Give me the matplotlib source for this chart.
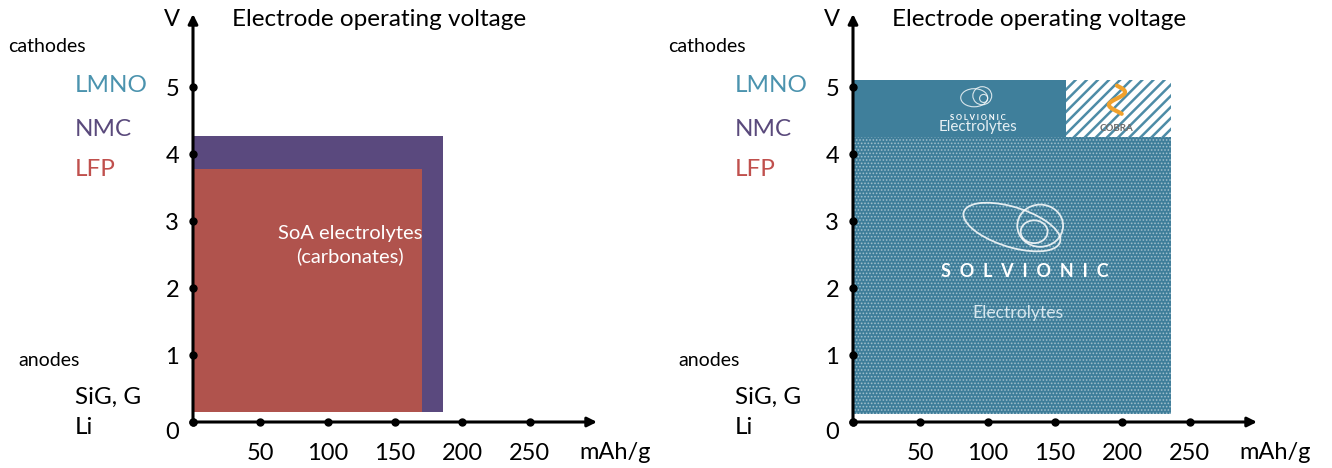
import matplotlib
matplotlib.use("Agg")
import matplotlib.pyplot as plt
from matplotlib.patches import Ellipse
import numpy as np

plt.rcParams['font.family'] = ['Lato', 'DejaVu Sans']

# ---------------- data ----------------
x_ticks = [50, 100, 150, 200, 250]
y_ticks = [0, 1, 2, 3, 4, 5]
x_unit = "mAh/g"
y_unit = "V"
title = "Electrode operating voltage"

cathode_labels = ["LMNO", "NMC", "LFP"]
cathode_colors = ["#4b93ae", "#5a4a7c", "#c0504d"]
anode_labels = ["SiG, G", "Li"]

# left panel: state-of-the-art electrolytes
left_names = ["NMC window", "LFP window"]
left_cap = [186, 170]          # mAh/g
left_vmin = [0.15, 0.15]       # V
left_vmax = [4.27, 3.78]       # V
left_colors = ["#5a497e", "#b0534d"]

# right panel: Solvionic electrolytes
right_names = ["Solvionic", "Solvionic high V", "COBRA"]
right_x0 = [0, 0, 158]
right_cap = [236, 158, 236]
right_vmin = [0.12, 4.25, 4.25]
right_vmax = [4.25, 5.1, 5.1]

W, H = 1332, 468
fig = plt.figure(figsize=(W / 100, H / 100), dpi=100)
fig.patch.set_facecolor("white")

def fx(px):
    return px / W

def fy(py):
    return 1 - py / H

XMAX, YMAX = 300, 6.09

def make_axes(x0px):
    ax = fig.add_axes([fx(x0px), fy(422), (597 - 193) / W, (422 - 14) / H])
    ax.set_xlim(0, XMAX)
    ax.set_ylim(0, YMAX)
    for s in ax.spines.values():
        s.set_visible(False)
    ax.patch.set_alpha(0)
    ax.set_xticks(x_ticks)
    ax.set_xticklabels([str(v) for v in x_ticks])
    ax.set_yticks(y_ticks)
    ax.set_yticklabels([str(v) for v in y_ticks])
    ax.tick_params(axis='x', length=0, pad=15, labelsize=17)
    ax.tick_params(axis='y', length=0, pad=10, labelsize=17)
    for lab in ax.get_yticklabels():
        if lab.get_text() == "0":
            lab.set_va("top")
    # axes arrows
    ax.annotate("", xy=(XMAX, 0), xytext=(0, 0), annotation_clip=False,
                arrowprops=dict(arrowstyle="-|>", lw=2.2, color="black",
                                mutation_scale=14, shrinkA=0, shrinkB=0), zorder=5)
    ax.annotate("", xy=(0, YMAX), xytext=(0, 0), annotation_clip=False,
                arrowprops=dict(arrowstyle="-|>", lw=2.2, color="black",
                                mutation_scale=14, shrinkA=0, shrinkB=0), zorder=5)
    ax.plot([0] + x_ticks, [0] * (len(x_ticks) + 1), "o", color="black", ms=5,
            clip_on=False, zorder=6)
    ax.plot([0] * len(y_ticks), y_ticks, "o", color="black", ms=5,
            clip_on=False, zorder=6)
    ax.text(313.5, -0.45, x_unit, fontsize=17, ha="center", va="center",
            clip_on=False)
    return ax

def side_labels(off):
    fig.text(fx(8 + off), fy(46), "cathodes", fontsize=14, va="center", ha="left")
    fig.text(fx(18 + off), fy(360), "anodes", fontsize=14, va="center", ha="left")
    fig.text(fx(172 + off), fy(20), y_unit, fontsize=17, va="center", ha="center")
    fig.text(fx(232 + off), fy(20), title, fontsize=17.5, va="center", ha="left")
    for lab, py, col in zip(cathode_labels, [86, 130, 170], cathode_colors):
        fig.text(fx(75 + off), fy(py), lab, fontsize=17.5, color=col,
                 va="center", ha="left")
    for lab, py in zip(anode_labels, [397, 428]):
        fig.text(fx(75 + off), fy(py), lab, fontsize=17.5, color="black",
                 va="center", ha="left")

# ---------- left panel ----------
axL = make_axes(193)
for c, lo, hi, col in zip(left_cap, left_vmin, left_vmax, left_colors):
    axL.bar(0, hi - lo, width=c, bottom=lo, align="edge", color=col, lw=0, zorder=2)
axL.text(116.6, 2.64, "SoA electrolytes\n(carbonates)", color="white", fontsize=14.5,
         ha="center", va="center", linespacing=1.3, zorder=3)
side_labels(0)

# ---------- right panel ----------
axR = make_axes(853)
teal = "#3f7f9b"
with plt.rc_context({'hatch.linewidth': 0.8}):
    axR.bar(right_x0[0], right_vmax[0] - right_vmin[0], width=right_cap[0] - right_x0[0],
            bottom=right_vmin[0], align="edge", color="#3e7d99",
            edgecolor=(1, 1, 1, 0.45), hatch=".....", lw=0, zorder=2)
axR.bar(right_x0[1], right_vmax[1] - right_vmin[1], width=right_cap[1] - right_x0[1],
        bottom=right_vmin[1], align="edge", color=teal, lw=0, zorder=2)
with plt.rc_context({'hatch.linewidth': 1.8}):
    axR.bar(right_x0[2], right_vmax[2] - right_vmin[2], width=right_cap[2] - right_x0[2],
            bottom=right_vmin[2], align="edge", color="white",
            edgecolor="#4d8ca7", hatch="///", lw=0, zorder=2)

# big Solvionic logo
logo_kw = dict(fill=False, ec=(1, 1, 1, 0.85), lw=1.3, zorder=4)
axR.add_patch(Ellipse((118, 2.91), 72, 0.62, angle=-0.3, **logo_kw))
axR.add_patch(Ellipse((139, 2.93), 34, 0.63, **logo_kw))
axR.add_patch(Ellipse((134.5, 2.84), 20, 0.34, **logo_kw))
axR.text(127.8, 2.25, "S  O  L  V  I  O  N  I  C", color="white", fontsize=13,
         fontweight="bold", ha="center", va="center", zorder=4)
axR.text(122.6, 1.63, "Electrolytes", color="#d5e6ee", fontsize=12.7,
         ha="center", va="center", zorder=4)

# small Solvionic logo in top band
small_kw = dict(fill=False, ec=(1, 1, 1, 0.8), lw=0.8, zorder=4)
axR.add_patch(Ellipse((90, 4.84), 20, 0.27, **small_kw))
axR.add_patch(Ellipse((96, 4.87), 14, 0.27, **small_kw))
axR.add_patch(Ellipse((97, 4.83), 6, 0.12, **small_kw))
axR.text(93, 4.55, "S O L V I O N I C", color="white", fontsize=5.5, fontweight="bold",
         ha="center", va="center", zorder=4)
axR.text(93, 4.40, "Electrolytes", color="#e6f0f4", fontsize=11,
         ha="center", va="center", zorder=4)

# COBRA logo
t = np.linspace(0, 1, 60)
sx = 196 + 6 * np.sin(t * 2 * np.pi * 1.1)
sy = 5.02 - 0.42 * t
axR.plot(sx, sy, color="#f0a12c", lw=3, solid_capstyle="round", zorder=4)
axR.text(196, 4.38, "COBRA", color="#6a6a6a", fontsize=7, fontweight="bold",
         ha="center", va="center", zorder=4)
side_labels(660)

fig.savefig("out.png", dpi=100, facecolor="white")
